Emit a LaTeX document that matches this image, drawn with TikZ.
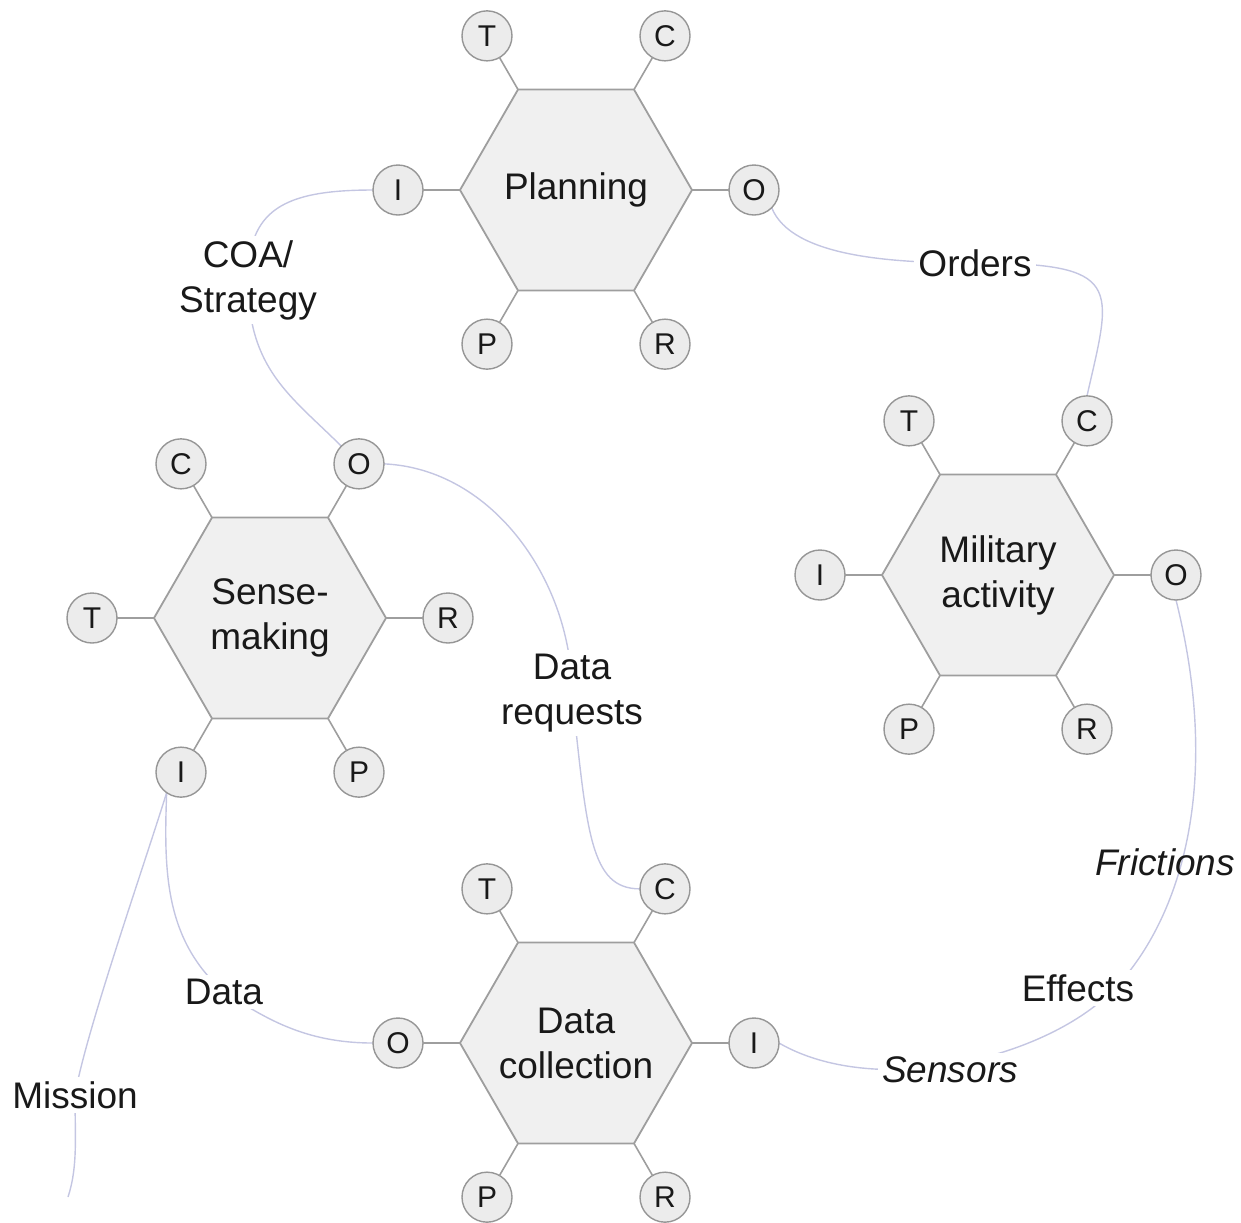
\documentclass[tikz,border=0pt]{standalone}
\usepackage{fontspec}
\setmainfont{Liberation Sans}
\usetikzlibrary{shapes.geometric,backgrounds}

\definecolor{hexfill}{RGB}{240,240,240}
\definecolor{hexline}{RGB}{158,158,158}
\definecolor{portfill}{RGB}{236,236,236}
\definecolor{portline}{RGB}{150,150,150}
\definecolor{linkcol}{RGB}{196,198,226}
\definecolor{ink}{RGB}{25,25,25}

% one activity: hexagon with six ports at its corners
% #1 name, #2 centre, #3 title, #4..#9 port letters at 0,60,...,300 degrees
\newcommand{\hexgroup}[9]{%
  \node[hexa] (#1) at (#2) {#3};
  \foreach \ang/\lab in {0/#4,60/#5,120/#6,180/#7,240/#8,300/#9}{%
    \node[port] (#1-\lab) at ([shift={(\ang:89pt)}]#1.center) {\lab};
    \draw[stem] (#1) -- (#1-\lab);
  }%
}

\begin{document}
\begin{tikzpicture}[x=0.5pt,y=-0.5pt,
  hexa/.style={regular polygon, regular polygon sides=6, minimum size=116pt,
    inner sep=-30pt, outer sep=0pt, draw=hexline, fill=hexfill, line width=0.9pt,
    font=\fontsize{18.5}{22.5}\selectfont, align=center, text=ink},
  port/.style={circle, minimum size=25pt, inner sep=0pt, outer sep=0pt,
    draw=portline, fill=portfill, line width=0.7pt,
    font=\fontsize{15}{17}\selectfont, text=ink},
  stem/.style={draw=hexline, line width=0.8pt},
  link/.style={draw=linkcol, line width=0.7pt},
  tag/.style={font=\fontsize{18.5}{22.5}\selectfont, align=center, text=ink, inner sep=2pt},
  tagbg/.style={tag, fill=white},
]
\useasboundingbox (0,0) rectangle (1241,1222);

% activities
\hexgroup{P}{576,190}{Planning}{O}{C}{T}{I}{P}{R}
\hexgroup{M}{998,575}{Military\\activity}{O}{C}{T}{I}{P}{R}
\hexgroup{S}{270,618}{Sense-\\making}{R}{O}{C}{T}{I}{P}
\hexgroup{D}{576,1043}{Data\\collection}{I}{C}{T}{O}{P}{R}

% flow labels
\node[tagbg] (coa) at (248,280) {COA/\\Strategy};
\node[tagbg] (orders) at (975,263) {Orders};
\node[tagbg] (dreq) at (572,693) {Data\\requests};
\node[tagbg] (data) at (224,992) {Data};
\node[tagbg] (mission) at (75,1095) {Mission};
\node[tag] (frictions) at (1165,862) {\itshape Frictions};
\node[tagbg] (effects) at (1078,988) {Effects};
\node[tagbg] (sensors) at (950,1070) {\itshape Sensors};

\coordinate (mend) at (68,1197);
\coordinate (fx) at (1112,991);

% flows between ports
\begin{scope}[on background layer]
  \draw[link] (P-I.west) .. controls +(-90,0) and +(0,-70) .. (coa.center);
  \draw[link] (coa.center) .. controls +(0,90) and +(-50,-50) .. (S-O.north west);

  \draw[link] (P-O.south east) .. controls +(20,50) and +(-80,0) .. (orders.center);
  \draw[link] (orders.center) .. controls +(150,0) and +(25,-110) .. (M-C.north);

  \draw[link] (S-O.east) .. controls +(110,5) and +(0,-110) .. (dreq.center);
  \draw[link] (dreq.center) .. controls +(15,140) and +(-50,0) .. (D-C.west);

  \draw[link] (D-O.west) .. controls +(-70,0) and +(40,25) .. (data.center);
  \draw[link] (data.center) .. controls +(-59,-52) and +(-3,80) .. (S-I.235);

  \draw[link] (mend) .. controls +(10,-30) and +(0,40) .. (mission.center);
  \draw[link] (mission.center) .. controls +(10,-60) and +(-25,80) .. (S-I.235);

  \draw[link] (D-I.east) .. controls +(95,55) and +(-70,70) .. (fx);
  \draw[link] (fx) .. controls +(60,-60) and +(50,200) .. (M-O.south);
\end{scope}
\end{tikzpicture}
\end{document}
